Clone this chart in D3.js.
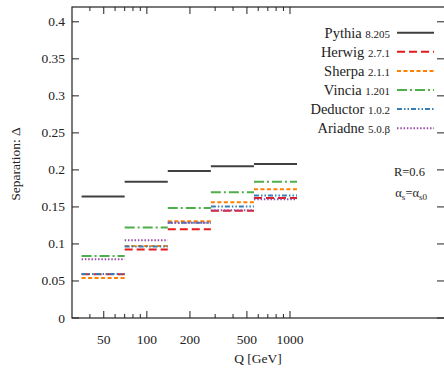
<!DOCTYPE html>
<html><head><meta charset="utf-8">
<script src="https://cdn.jsdelivr.net/npm/d3@7"></script>
<style>body{margin:0;background:#fff}svg{display:block}text{font-family:"Liberation Serif","DejaVu Serif",serif;fill:#222}</style>
</head><body>
<script>
const binEdges = [35, 70, 140, 280, 560, 1120];
const seriesNames = ["Pythia", "Herwig", "Sherpa", "Vincia", "Deductor", "Ariadne"];
const seriesVersions = ["8.205", "2.7.1", "2.1.1", "1.201", "1.0.2", "5.0.\u03b2"];
const pythia   = [0.164, 0.184, 0.1985, 0.205, 0.208];
const herwig   = [0.059, 0.0925, 0.120, 0.1448, 0.1622];
const sherpa   = [0.0541, 0.0972, 0.1305, 0.1563, 0.1738];
const vincia   = [0.0837, 0.1223, 0.1484, 0.1698, 0.184];
const deductor = [0.0595, 0.0965, 0.1288, 0.1505, 0.1656];
const ariadne  = [0.0794, 0.1051, 0.1285, 0.1455, 0.1603];
const yTicks = [0, 0.05, 0.1, 0.15, 0.2, 0.25, 0.3, 0.35, 0.4];
const yTickLabels = ["0", "0.05", "0.1", "0.15", "0.2", "0.25", "0.3", "0.35", "0.4"];
const xMajor = [50, 100, 200, 500, 1000];
const xMinor = [40, 60, 70, 80, 90, 300, 400, 600, 700, 800, 900];

const seriesValues = [pythia, herwig, sherpa, vincia, deductor, ariadne];
const colors = ["#404040", "#e41a1c", "#ff7f00", "#4daf4a", "#377eb8", "#984ea3"];
const dashes = ["none", "8,4", "4,2.5", "10,3,2,3", "5,2,1.5,2,1.5,2", "1.5,1.8"];

const W = 444, H = 368;
const L = 72, R = 445, T = 7, B = 318;
const svg = d3.select("body").append("svg").attr("width", W).attr("height", H);
const x = d3.scaleLog().domain([30, 12100]).range([L, R]);
const y = d3.scaleLinear().domain([0, 0.42]).range([B, T]);

// frame
const fr = svg.append("g").attr("stroke", "#222").attr("stroke-width", 1.2).attr("fill", "none");
fr.append("rect").attr("x", L).attr("y", T).attr("width", R - L).attr("height", B - T);

// y ticks
const axG = svg.append("g").attr("stroke", "#222").attr("stroke-width", 1);
yTicks.forEach((v, i) => {
  axG.append("line").attr("x1", L).attr("x2", L + 7).attr("y1", y(v)).attr("y2", y(v));
  axG.append("line").attr("x1", R - 8).attr("x2", R).attr("y1", y(v)).attr("y2", y(v));
  svg.append("text").attr("x", 65).attr("y", y(v) + 4.5).attr("text-anchor", "end")
    .attr("font-size", 13.5).text(yTickLabels[i]);
});
// x ticks
xMajor.forEach(v => {
  axG.append("line").attr("x1", x(v)).attr("x2", x(v)).attr("y1", B).attr("y2", B - 7);
  axG.append("line").attr("x1", x(v)).attr("x2", x(v)).attr("y1", T).attr("y2", T + 7);
  svg.append("text").attr("x", x(v)).attr("y", 344).attr("text-anchor", "middle")
    .attr("font-size", 13.5).text(d3.format("d")(v));
});
xMinor.forEach(v => {
  axG.append("line").attr("x1", x(v)).attr("x2", x(v)).attr("y1", B).attr("y2", B - 4);
  axG.append("line").attr("x1", x(v)).attr("x2", x(v)).attr("y1", T).attr("y2", T + 4);
});

// axis titles
svg.append("text").attr("x", 258).attr("y", 363).attr("text-anchor", "middle")
  .attr("font-size", 13.5).text("Q [GeV]");
svg.append("text").attr("transform", "translate(20,164) rotate(-90)").attr("text-anchor", "middle")
  .attr("font-size", 13.5).text("Separation: \u0394");

// series
seriesValues.forEach((vals, s) => {
  const g = svg.append("g");
  vals.forEach((v, i) => {
    g.append("line")
      .attr("x1", x(binEdges[i])).attr("x2", x(binEdges[i + 1]))
      .attr("y1", y(v)).attr("y2", y(v))
      .attr("stroke", colors[s]).attr("stroke-width", 2)
      .attr("stroke-dasharray", dashes[s]);
  });
});

// legend
seriesNames.forEach((n, s) => {
  const yy = 32.7 + s * 19.1;
  const t = svg.append("text").attr("x", 390).attr("y", yy + 5).attr("text-anchor", "end");
  t.append("tspan").attr("font-size", 14.5).text(n + " ");
  t.append("tspan").attr("font-size", 11).text(seriesVersions[s]);
  svg.append("line").attr("x1", 397).attr("x2", 434).attr("y1", yy).attr("y2", yy)
    .attr("stroke", colors[s]).attr("stroke-width", 2).attr("stroke-dasharray", dashes[s]);
});

// annotations
svg.append("text").attr("x", 425).attr("y", 176).attr("text-anchor", "end").attr("font-size", 12.5).text("R=0.6");
const a = svg.append("text").attr("x", 427).attr("y", 197).attr("text-anchor", "end").attr("font-size", 12.5);
a.append("tspan").text("\u03b1");
a.append("tspan").attr("font-size", 9).attr("dy", 3).text("s");
a.append("tspan").attr("dy", -3).text("=\u03b1");
a.append("tspan").attr("font-size", 9).attr("dy", 3).text("s0");
</script>
</body></html>
